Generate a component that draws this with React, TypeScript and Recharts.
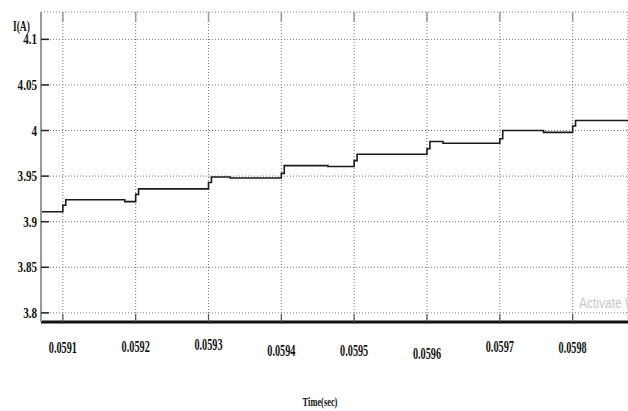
import React from 'react';
import { LineChart, Line, XAxis, YAxis, CartesianGrid } from 'recharts';

// step breakpoints of the current trace (stepAfter)
const times = [
  0.05907, 0.0591, 0.059104, 0.059185, 0.0592, 0.059204, 0.0593, 0.059304, 0.05933,
  0.0594, 0.059404, 0.059464, 0.0595, 0.059504, 0.0596, 0.059604, 0.059622,
  0.0597, 0.059704, 0.05976, 0.0598, 0.059804, 0.059876,
];
const current = [
  3.911, 3.918, 3.924, 3.922, 3.93, 3.936, 3.943, 3.949, 3.948,
  3.953, 3.9615, 3.9605, 3.967, 3.974, 3.98, 3.988, 3.986,
  3.991, 4.0, 3.998, 4.005, 4.011, 4.011,
];

const xTicks = [0.0591, 0.0592, 0.0593, 0.0594, 0.0595, 0.0596, 0.0597, 0.0598];
const xTickLabels = ['0.0591', '0.0592', '0.0593', '0.0594', '0.0595', '0.0596', '0.0597', '0.0598'];
const yTicks = [3.8, 3.85, 3.9, 3.95, 4.0, 4.05, 4.1];
const yTickLabels = ['3.8', '3.85', '3.9', '3.95', '4', '4.05', '4.1'];

const data = times.map((t, i) => ({ t, i: current[i] }));

// the x labels in the original sit at slightly uneven heights
const xLabelDy = [31, 30, 28, 34, 34, 37, 30, 31];

const FONT = '"Liberation Serif", "DejaVu Serif", serif';

function Squeezed({ x, y, sx, size, anchor = 'start', children, fill = '#111', weight = 'bold', family = FONT }: any) {
  return (
    <text
      transform={`translate(${x},${y}) scale(${sx},1)`}
      fontFamily={family}
      fontWeight={weight}
      fontSize={size}
      textAnchor={anchor}
      fill={fill}
    >
      {children}
    </text>
  );
}

function BottomTick({ x, y, index }: any) {
  return (
    <g>
      <line x1={x} x2={x} y1={y} y2={y - 8} stroke="#555" strokeWidth={1.2} />
      <Squeezed x={x} y={y + xLabelDy[index]} sx={0.64} size={16} anchor="middle">
        {xTickLabels[index]}
      </Squeezed>
    </g>
  );
}

function TopTick({ x, y }: any) {
  return <line x1={x} x2={x} y1={y} y2={y + 10} stroke="#999" strokeWidth={1.5} />;
}

function LeftTick({ x, y, index }: any) {
  return (
    <g>
      <line x1={x} x2={x + 8} y1={y} y2={y} stroke="#222" strokeWidth={1.5} />
      <Squeezed x={x - 4} y={y + 5} sx={0.74} size={15} anchor="end">
        {yTickLabels[index]}
      </Squeezed>
    </g>
  );
}

export default function App() {
  return (
    <div style={{ position: 'absolute', left: 0, top: 0, width: 628, height: 411, background: '#fff' }}>
      <LineChart width={628} height={411} data={data} margin={{ top: 0, right: 0, bottom: 0, left: 0 }}>
        <CartesianGrid stroke="#777" strokeDasharray="1 2" strokeWidth={1} />
        <XAxis
          dataKey="t"
          type="number"
          domain={[0.05907, 0.059876]}
          ticks={xTicks}
          allowDataOverflow
          height={89}
          axisLine={{ stroke: '#111', strokeWidth: 3 }}
          tickLine={false}
          tickSize={0}
          tickMargin={0}
          tick={<BottomTick />}
          interval={0}
          label={(props: any) => (
            <Squeezed x={320} y={406} sx={0.7} size={12}>
              <tspan textAnchor="middle">Time(sec)</tspan>
            </Squeezed>
          )}
        />
        <XAxis
          xAxisId="top"
          orientation="top"
          dataKey="t"
          type="number"
          domain={[0.05907, 0.059876]}
          ticks={xTicks}
          allowDataOverflow
          height={12}
          axisLine={false}
          tickLine={false}
          tickSize={0}
          tickMargin={0}
          tick={<TopTick />}
          interval={0}
        />
        <YAxis
          type="number"
          domain={[3.79, 4.13]}
          ticks={yTicks}
          allowDataOverflow
          width={41}
          axisLine={{ stroke: '#999', strokeWidth: 2 }}
          tickLine={false}
          tickSize={0}
          tickMargin={0}
          tick={<LeftTick />}
          interval={0}
          label={() => (
            <g>
              <Squeezed x={13} y={31} sx={0.68} size={14}>I(A)</Squeezed>
              <Squeezed x={579} y={308} sx={0.8} size={15} weight="normal" fill="#c8c8c8" family='"Liberation Sans", Arial, sans-serif'>
                Activate W
              </Squeezed>
            </g>
          )}
        />
        <Line
          type="stepAfter"
          dataKey="i"
          stroke="#1a1a1a"
          strokeWidth={1.6}
          dot={false}
          isAnimationActive={false}
        />
      </LineChart>
    </div>
  );
}
